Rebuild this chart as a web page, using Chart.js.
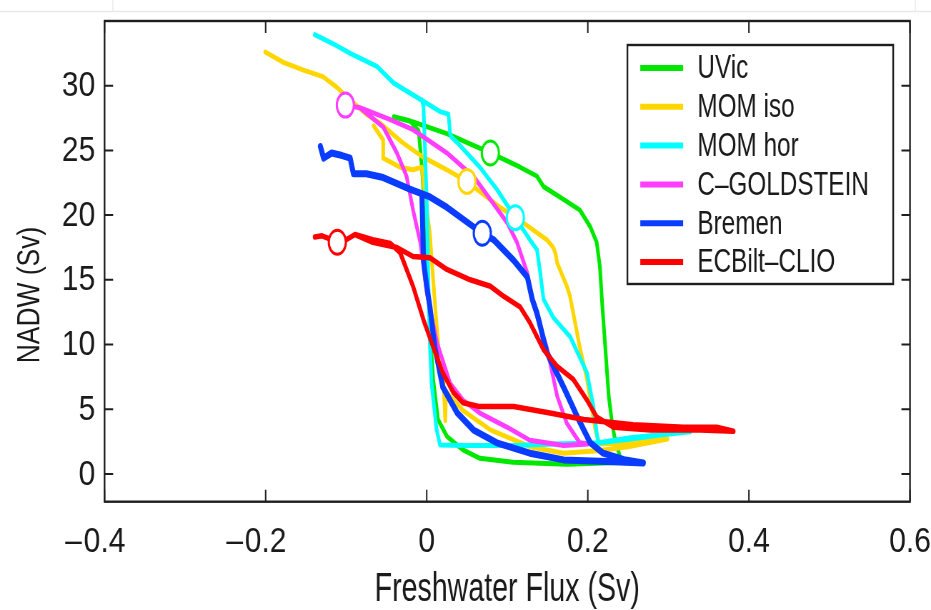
<!DOCTYPE html>
<html>
<head>
<meta charset="utf-8">
<script src="https://cdn.jsdelivr.net/npm/chart.js@4.4.1/dist/chart.umd.min.js"></script>
<style>
    html, body { margin: 0; padding: 0; background: #fff; overflow: hidden; }
    /* a figura original tem o texto estreito: desenha largo e comprime na horizontal */
    #moldura { width: 1303px; height: 610px; transform: scaleX(0.7145); transform-origin: 0 0; }
</style>
</head>
<body>
<div id="moldura"><canvas id="histerese"></canvas></div>
<script>
// Valores dos eixos
const valoresX = [-0.4, -0.2, 0, 0.2, 0.4, 0.6];
const valoresY = [0, 5, 10, 15, 20, 25, 30];

const nomesModelos = ['UVic', 'MOM iso', 'MOM hor', 'C\u2013GOLDSTEIN', 'Bremen', 'ECBilt\u2013CLIO'];
const coresModelos = ['#00e800', '#ffd600', '#00ffff', '#ff3cff', '#0a3cff', '#ff0000'];

// Curvas de histerese: ramo de ida e depois ramo de volta (Sv)
const fluxoUVic = [-0.041, -0.017, 0.025, 0.079, 0.116, 0.137, 0.145, 0.170, 0.190, 0.203, 0.211, 0.215, 0.218, 0.222, 0.226, 0.230, 0.233, 0.240, 0.246,
    0.174, 0.107, 0.066, 0.045, 0.025, 0.014, 0.008, 0.004, 0.001, -0.003, -0.006, -0.010, -0.021, -0.041];
const nadwUVic = [27.6, 27.2, 26.3, 24.8, 23.7, 23.0, 22.2, 21.2, 20.4, 19.1, 17.9, 16.0, 13.0, 9.5, 6.0, 4.0, 2.9, 1.3, 0.9,
    0.75, 0.9, 1.2, 1.85, 2.9, 4.2, 7.3, 11.1, 16.0, 21.0, 23.7, 26.5, 27.3, 27.6];

const fluxoMomIso = [-0.2005, -0.178, -0.153, -0.129, -0.112, -0.095, -0.075, -0.058, -0.030, -0.005, 0.025, 0.050, 0.091, 0.120, 0.149, 0.157, 0.160, 0.162, 0.174, 0.178, 0.190, 0.199, 0.206, 0.210, 0.215, 0.250, 0.299,
    0.250, 0.215, 0.170, 0.128, 0.079, 0.045, 0.029, 0.024, 0.023, 0.021, 0.015, 0.011, 0.008, 0.004, -0.002, -0.006, -0.017, -0.033, -0.054, -0.054, -0.066];
const nadwMomIso = [32.6, 31.8, 31.2, 30.7, 29.9, 28.9, 27.8, 27.1, 25.6, 24.5, 23.5, 22.6, 20.6, 19.4, 18.1, 17.5, 17.0, 16.3, 14.5, 13.7, 9.8, 7.3, 4.7, 3.2, 2.3, 2.4, 2.7,
    2.1, 1.8, 1.6, 2.1, 3.4, 4.9, 6.0, 6.4, 4.1, 7.0, 9.5, 12.5, 15.0, 18.5, 21.5, 23.7, 23.5, 23.7, 24.4, 25.8, 26.9];

const fluxoMomHor = [-0.139, -0.115, -0.095, -0.062, -0.041, -0.012, 0.0165, 0.027, 0.029, 0.031, 0.038, 0.066, 0.087, 0.110, 0.128, 0.137, 0.141, 0.145, 0.157, 0.178, 0.190, 0.199, 0.207, 0.211, 0.213, 0.253, 0.327,
    0.290, 0.253, 0.215, 0.160, 0.107, 0.050, 0.0165, 0.012, 0.010, 0.006, 0.004, 0.002, 0.000, -0.004, -0.006];
const nadwMomHor = [33.95, 33.2, 32.5, 31.5, 30.2, 29.1, 28.0, 27.8, 26.3, 26.0, 25.6, 23.7, 22.0, 19.8, 18.1, 17.3, 15.5, 13.5, 12.1, 10.6, 9.0, 7.8, 5.2, 3.2, 2.4, 2.8, 3.25,
    3.0, 2.7, 2.4, 2.3, 2.2, 2.2, 2.24, 3.5, 4.7, 7.0, 9.8, 15.0, 21.2, 28.4, 28.9];

const fluxoGoldstein = [-0.101, -0.083, -0.046, -0.017, 0.025, 0.058, 0.079, 0.100, 0.112, 0.125, 0.130, 0.140, 0.149, 0.162, 0.174, 0.190, 0.200,
    0.170, 0.128, 0.100, 0.066, 0.045, 0.029, 0.013, 0.000, -0.008, -0.017, -0.025, -0.037, -0.054, -0.083, -0.101];
const nadwGoldstein = [28.5, 28.3, 27.4, 26.6, 24.8, 23.0, 21.2, 19.4, 17.9, 15.5, 13.6, 11.5, 9.8, 6.0, 3.9, 2.4, 2.3,
    2.2, 2.6, 3.6, 4.7, 5.7, 7.0, 10.1, 14.0, 17.9, 20.4, 23.0, 24.8, 26.8, 28.3, 28.5];

const fluxoBremen = [-0.132, -0.128, -0.118, -0.105, -0.095, -0.091, -0.075, -0.054, -0.021, 0.004, 0.025, 0.058, 0.069, 0.083, 0.108, 0.125, 0.131, 0.137, 0.149, 0.170, 0.187, 0.203, 0.219, 0.245, 0.269,
    0.232, 0.170, 0.128, 0.087, 0.058, 0.038, 0.020, 0.010, 0.004, 0.000, -0.004, -0.006];
const nadwBremen = [25.3, 24.4, 24.8, 24.6, 24.4, 23.2, 23.2, 22.9, 22.0, 21.4, 20.6, 19.1, 18.6, 18.1, 16.5, 15.2, 13.5, 12.4, 9.4, 6.7, 4.4, 2.4, 1.6, 1.1, 0.85,
    0.93, 1.08, 1.6, 2.4, 3.4, 4.7, 6.7, 9.8, 12.9, 14.5, 16.5, 21.5];

const fluxoEcbilt = [-0.139, -0.130, -0.122, -0.111, -0.100, -0.089, -0.067, -0.037, -0.017, 0.004, 0.025, 0.054, 0.079, 0.096, 0.116, 0.128, 0.145, 0.162, 0.182, 0.199, 0.211, 0.232, 0.278, 0.340, 0.381,
    0.360, 0.319, 0.256, 0.195, 0.153, 0.108, 0.066, 0.045, 0.033, 0.020, 0.008, -0.004, -0.017, -0.033, -0.045, -0.067, -0.089];
const nadwEcbilt = [18.3, 18.4, 18.2, 17.9, 18.1, 18.5, 17.9, 17.5, 16.8, 16.7, 15.8, 15.0, 14.5, 13.7, 12.9, 11.7, 9.6, 8.3, 7.3, 5.7, 4.4, 3.6, 3.4, 3.4, 3.3,
    3.6, 3.6, 3.8, 4.2, 4.7, 5.2, 5.2, 5.5, 6.3, 7.8, 9.8, 11.9, 14.5, 17.1, 17.8, 18.1, 18.5];

// Estado atual de cada modelo (circulos)
const fluxoAtual = [0.079, 0.050, 0.110, -0.101, 0.069, -0.111];
const nadwAtual = [24.8, 22.6, 19.8, 28.5, 18.6, 17.9];

const fluxos = [fluxoUVic, fluxoMomIso, fluxoMomHor, fluxoGoldstein, fluxoBremen, fluxoEcbilt];
const nadws = [nadwUVic, nadwMomIso, nadwMomHor, nadwGoldstein, nadwBremen, nadwEcbilt];

const fonte = '"Liberation Sans", Arial, Helvetica, sans-serif';
const corTexto = '#1a1a1a';

// Plugin: moldura com ticks para dentro, rotulos dos ticks, legenda com caixa e titulo do eixo y
const molduraPlugin = {
    id: 'moldura',
    beforeDraw(chart) {
        const ctx = chart.ctx;
        ctx.save();
        ctx.strokeStyle = '#e9e9e9';
        ctx.lineWidth = 1.4;
        ctx.beginPath();
        ctx.moveTo(0, 11.5); ctx.lineTo(chart.width, 11.5);
        ctx.moveTo(158, 0); ctx.lineTo(158, 11.5);
        ctx.moveTo(1281, 0); ctx.lineTo(1281, 11.5);
        ctx.stroke();
        ctx.restore();
    },
    afterDatasetsDraw(chart) {
        const ctx = chart.ctx;
        const area = chart.chartArea;
        const sx = chart.scales.x;
        const sy = chart.scales.y;
        ctx.save();

        ctx.strokeStyle = '#1e1e1e';
        ctx.lineWidth = 2.4;
        ctx.strokeRect(area.left, area.top, area.right - area.left, area.bottom - area.top);

        ctx.lineWidth = 2;
        ctx.beginPath();
        for (let i = 0; i < valoresX.length; i++) {
            let px = sx.getPixelForValue(valoresX[i]);
            ctx.moveTo(px, area.bottom); ctx.lineTo(px, area.bottom - 12);
            ctx.moveTo(px, area.top); ctx.lineTo(px, area.top + 12);
        }
        for (let i = 0; i < valoresY.length; i++) {
            let py = sy.getPixelForValue(valoresY[i]);
            ctx.moveTo(area.left, py); ctx.lineTo(area.left + 12, py);
            ctx.moveTo(area.right, py); ctx.lineTo(area.right - 12, py);
        }
        ctx.stroke();

        // Rotulos dos ticks (numero centrado no tick, sinal pendurado a esquerda)
        ctx.fillStyle = corTexto;
        ctx.font = '35px ' + fonte;
        ctx.textBaseline = 'middle';
        for (let i = 0; i < valoresX.length; i++) {
            let v = valoresX[i];
            let px = sx.getPixelForValue(v);
            let numero = v === 0 ? '0' : Math.abs(v).toFixed(1);
            ctx.save();
            ctx.translate(px, 542.5);
            ctx.scale(1.2, 1);
            ctx.textAlign = 'center';
            ctx.fillText(numero, 0, 0);
            if (v < 0) {
                let meia = ctx.measureText(numero).width / 2;
                ctx.textAlign = 'right';
                ctx.fillText('\u2013', -meia - 2, 0);
            }
            ctx.restore();
        }
        for (let i = 0; i < valoresY.length; i++) {
            let py = sy.getPixelForValue(valoresY[i]);
            ctx.save();
            ctx.translate(area.left - 13, py + 1);
            ctx.scale(1.2, 1);
            ctx.textAlign = 'right';
            ctx.fillText(String(valoresY[i]), 0, 0);
            ctx.restore();
        }

        // Legenda
        const larg = 372;
        const esq = area.right - 23.5 - larg;
        const topo = area.top + 24;
        ctx.fillStyle = '#ffffff';
        ctx.fillRect(esq, topo, larg, 239);
        ctx.lineWidth = 2.4;
        ctx.strokeStyle = '#1e1e1e';
        ctx.strokeRect(esq, topo, larg, 239);
        ctx.font = '34px ' + fonte;
        ctx.textBaseline = 'middle';
        ctx.textAlign = 'left';
        for (let i = 0; i < nomesModelos.length; i++) {
            let y = topo + 23 + i * 38.8;
            ctx.strokeStyle = coresModelos[i];
            ctx.lineWidth = 6;
            ctx.beginPath();
            ctx.moveTo(esq + 18, y); ctx.lineTo(esq + 78, y);
            ctx.stroke();
            ctx.fillStyle = corTexto;
            ctx.fillText(nomesModelos[i], esq + 98, y + 1);
        }

        // Titulo do eixo y
        ctx.translate(43, 295);
        ctx.rotate(-Math.PI / 2);
        ctx.scale(0.6, 1);
        ctx.font = '44px ' + fonte;
        ctx.textAlign = 'center';
        ctx.fillStyle = corTexto;
        ctx.fillText('NADW (Sv)', 0, 0);
        ctx.restore();
    }
};

function plotarHisterese() {
    console.log('iniciando plotagem do gráfico...');

    let dados = { datasets: [] };
    const ordemLinhas = [6, 5, 4, 3, 2, 1];
    const espessuras = [5, 5, 5, 5, 7, 5.5];

    // Circulos do estado atual (ficam por cima)
    for (let i = 0; i < nomesModelos.length; i++) {
        dados.datasets.push({
            label: nomesModelos[i] + ' atual',
            data: [{ x: fluxoAtual[i], y: nadwAtual[i] }],
            showLine: false,
            pointStyle: 'circle',
            pointRadius: 12,
            pointBorderWidth: 3,
            pointBorderColor: coresModelos[i],
            pointBackgroundColor: '#ffffff',
            order: 0
        });
    }

    // Curvas
    for (let i = 0; i < nomesModelos.length; i++) {
        let pontos = [];
        for (let j = 0; j < fluxos[i].length; j++) {
            pontos.push({ x: fluxos[i][j], y: nadws[i][j] });
        }
        dados.datasets.push({
            label: nomesModelos[i],
            data: pontos,
            showLine: true,
            borderColor: coresModelos[i],
            borderWidth: espessuras[i],
            borderJoinStyle: 'round',
            borderCapStyle: 'round',
            pointRadius: 0,
            tension: 0,
            fill: false,
            order: ordemLinhas[i]
        });
    }

    const config = {
        type: 'scatter',
        data: dados,
        options: {
            responsive: true,
            maintainAspectRatio: false,
            animation: false,
            layout: { padding: { top: 21, right: 29.4, left: 0, bottom: 0 } },
            plugins: {
                legend: { display: false },
                tooltip: { enabled: false }
            },
            scales: {
                x: {
                    type: 'linear',
                    min: -0.4,
                    max: 0.6,
                    afterBuildTicks: function (s) { s.ticks = valoresX.map(v => ({ value: v })); },
                    afterFit: function (s) {
                        s.height = 108.3;
                        s.paddingLeft = 0;
                        s.paddingRight = 0;
                    },
                    grid: { display: false, drawTicks: false },
                    border: { display: false },
                    ticks: { display: false },
                    title: {
                        display: true, text: 'Freshwater Flux (Sv)', color: corTexto,
                        font: { size: 40, family: fonte, lineHeight: 1 },
                        padding: { top: 0, bottom: 0 }
                    }
                },
                y: {
                    type: 'linear',
                    min: -2.15,
                    max: 35,
                    afterBuildTicks: function (s) { s.ticks = valoresY.map(v => ({ value: v })); },
                    afterFit: function (s) {
                        s.width = 146.3;
                        s.paddingTop = 0;
                        s.paddingBottom = 0;
                    },
                    grid: { display: false, drawTicks: false },
                    border: { display: false },
                    ticks: { display: false }
                }
            }
        },
        plugins: [molduraPlugin]
    };

    let grafico = new Chart(document.getElementById('histerese'), config);
}

plotarHisterese();
</script>
</body>
</html>
